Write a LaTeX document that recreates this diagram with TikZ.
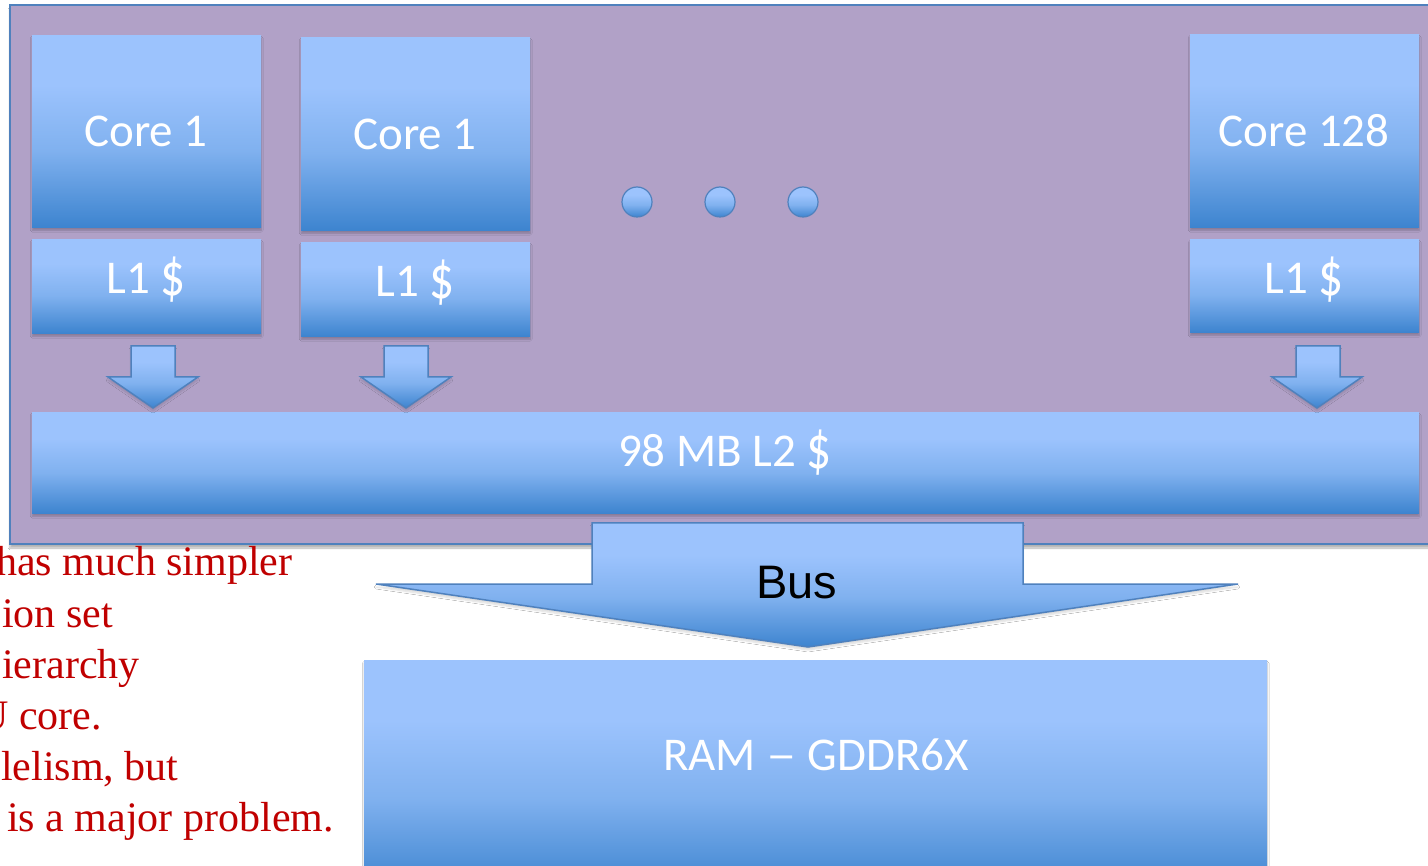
\documentclass[tikz,border=0pt]{standalone}
\usepackage{fontspec}
\usepackage{graphicx}
\setmainfont{Carlito}
\newfontfamily\seriffont{Liberation Serif}
\newfontfamily\arialfont{Liberation Sans}
\usetikzlibrary{shadows.blur}
\newcommand{\tallbuck}{\raisebox{-0.04em}{\scalebox{1.05}[1.3]{\$}}}
\definecolor{blight}{HTML}{9CC3FD}
\definecolor{bmid}{HTML}{80B1EF}
\definecolor{bdark}{HTML}{3D84CF}
\definecolor{purp}{HTML}{B1A1C7}
\definecolor{edgeblue}{HTML}{4F81BD}
\definecolor{redtxt}{HTML}{C00000}
\pgfdeclareverticalshading{boxgrad}{100bp}{color(0bp)=(bdark); color(25bp)=(bdark); color(45bp)=(bmid); color(62bp)=(blight); color(75bp)=(blight); color(100bp)=(blight)}
\tikzset{
  bbox/.style={rectangle, anchor=north west, inner sep=0pt, shading=boxgrad,
    blur shadow={shadow xshift=0pt, shadow yshift=-3pt, shadow blur steps=6, shadow opacity=25}},
  btext/.style={anchor=base, inner sep=0pt, text=white, font=\fontsize{47}{50}\selectfont},
  barrow/.style={draw=edgeblue, line width=1.5pt, shading=boxgrad, line join=miter,
    blur shadow={shadow xshift=0pt, shadow yshift=-3pt, shadow blur steps=6, shadow opacity=15}},
  bdot/.style={circle, minimum size=30pt, inner sep=0pt, draw=edgeblue, line width=1.2pt, shading=boxgrad},
  redline/.style={anchor=base west, inner sep=0pt, text=redtxt, font=\seriffont\fontsize{42}{51}\selectfont},
}
\begin{document}
\begin{tikzpicture}[x=1pt,y=-1pt]
\useasboundingbox (0,0) rectangle (1428,866);
\clip (0,0) rectangle (1428,866);
\fill[white] (0,0) rectangle (1428,866);

% chip outline
\node[rectangle, anchor=north west, inner sep=0pt, draw=edgeblue, line width=2pt, fill=purp,
  minimum width=1440pt, minimum height=539pt,
  blur shadow={shadow xshift=0pt, shadow yshift=-4pt, shadow blur steps=6, shadow opacity=30}] (chip) at (9,4) {};

% cores and L1 caches
\node[bbox, minimum width=229pt, minimum height=192pt] (c1) at (32,35) {};
\node[bbox, minimum width=229pt, minimum height=94pt] (l1a) at (32,239) {};
\node[bbox, minimum width=229pt, minimum height=193pt] (c2) at (301,37) {};
\node[bbox, minimum width=229pt, minimum height=94pt] (l1b) at (301,242) {};
\node[bbox, minimum width=229pt, minimum height=193pt] (c3) at (1190,34) {};
\node[bbox, minimum width=229pt, minimum height=93pt] (l1c) at (1190,239) {};
\node[btext] (c1t) at (146,147) {Core 1};
\node[btext] (c2t) at (415,150) {Core 1};
\node[btext] (c3t) at (1304,147) {Core 128};
\node[btext] (l1at) at (146,294) {L1 \tallbuck};
\node[btext] (l1bt) at (415,297) {L1 \tallbuck};
\node[btext] (l1ct) at (1304,294) {L1 \tallbuck};

% dots
\node[bdot] (d1) at (637,202) {};
\node[bdot] (d2) at (720,202) {};
\node[bdot] (d3) at (803,202) {};

% L2
\node[bbox, minimum width=1387pt, minimum height=101pt] (l2) at (32,412) {};
\node[btext] (l2t) at (725,467) {98 MB L2 \tallbuck};

% small block arrows L1 -> L2
\path[barrow] (131,346) -- (175,346) -- (175,377) -- (198,377) -- (153,408) -- (108,377) -- (131,377) -- cycle;
\path[barrow] (384,346) -- (428,346) -- (428,377) -- (451,377) -- (406,408) -- (361,377) -- (384,377) -- cycle;
\path[barrow] (1296,346) -- (1340,346) -- (1340,377) -- (1362,377) -- (1317,408) -- (1272,377) -- (1296,377) -- cycle;

% RAM
\node[bbox, minimum width=903pt, minimum height=230pt] (ram) at (364,660) {};
\node[btext] (ramt) at (816,770) {RAM \scalebox{1.3}[1]{--} GDDR6X};

% Bus arrow
\path[barrow] (592,523) -- (1023,523) -- (1023,584) -- (1238,584) -- (808,647) -- (376,584) -- (592,584) -- cycle;
\node[anchor=base, inner sep=0pt, font=\arialfont\fontsize{47}{50}\selectfont] (bus) at (797,598) {Bus};

% red text (clipped at left edge, as in the reference)
\node[redline] (t1) at (-4,576) {has much simpler};
\node[redline] (t2) at (2,627) {ion set};
\node[redline] (t3) at (2,678) {ierarchy};
\node[redline] (t4) at (-22,729) {U core.};
\node[redline] (t5) at (1,780) {lelism, but};
\node[redline] (t6) at (7,831) {is a major problem.};
\end{tikzpicture}
\end{document}
